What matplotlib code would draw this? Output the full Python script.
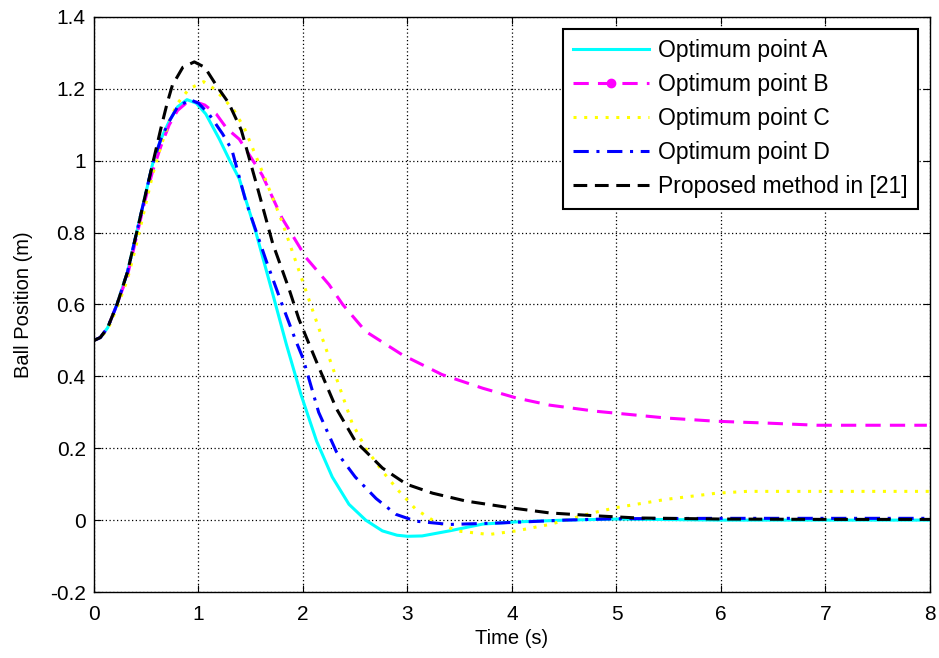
import numpy as np
import matplotlib
matplotlib.use("Agg")
import matplotlib.pyplot as plt
from matplotlib.lines import Line2D

# values (time in s, position in m)
t_a = [0, 0.06, 0.13, 0.22, 0.32, 0.4, 0.48, 0.56, 0.64, 0.72, 0.8, 0.89, 0.98, 1.07, 1.2, 1.3,
       1.39, 1.55, 1.71, 1.84, 1.98, 2.13, 2.28, 2.44, 2.6, 2.76, 2.9, 3.0, 3.14, 3.4, 3.72,
       4.04, 4.5, 5.0, 6.0, 7.0, 8.0]
pos_a = [0.5, 0.508, 0.535, 0.6, 0.69, 0.79, 0.89, 0.99, 1.06, 1.11, 1.15, 1.17, 1.16, 1.13, 1.06, 1.0,
         0.95, 0.8, 0.63, 0.49, 0.35, 0.22, 0.12, 0.044, 0.0, -0.03, -0.042, -0.045, -0.044, -0.03, -0.011,
         -0.005, 0.0, 0.003, 0.0, 0.0, 0.0]

t_b = [0, 0.06, 0.13, 0.22, 0.32, 0.4, 0.48, 0.56, 0.64, 0.72, 0.8, 0.88, 0.96, 1.06, 1.17, 1.27,
       1.39, 1.61, 1.8, 2.03, 2.25, 2.38, 2.6, 2.95, 3.33, 3.72, 4.04, 4.36, 4.8, 5.48, 5.96,
       6.44, 6.92, 7.97]
pos_b = [0.5, 0.508, 0.535, 0.6, 0.68, 0.78, 0.88, 0.97, 1.04, 1.1, 1.14, 1.16, 1.165, 1.155, 1.13, 1.09,
         1.06, 0.96, 0.84, 0.73, 0.655, 0.6, 0.525, 0.46, 0.405, 0.367, 0.34, 0.32, 0.303, 0.284, 0.275,
         0.27, 0.264, 0.264]

t_c = [0, 0.06, 0.13, 0.22, 0.32, 0.4, 0.48, 0.56, 0.64, 0.72, 0.8, 0.91, 1.05, 1.15, 1.25, 1.34,
       1.44, 1.61, 1.8, 1.99, 2.18, 2.35, 2.47, 2.6, 2.76, 2.92, 3.08, 3.24, 3.47, 3.78, 4.04,
       4.36, 4.77, 5.0, 5.48, 5.96, 6.25, 7.0, 8.0]
pos_c = [0.5, 0.507, 0.53, 0.59, 0.67, 0.76, 0.86, 0.96, 1.04, 1.11, 1.16, 1.2, 1.22, 1.2, 1.17, 1.14,
         1.09, 0.97, 0.83, 0.67, 0.51, 0.37, 0.27, 0.2, 0.136, 0.08, 0.03, 0.0, -0.03, -0.04, -0.03,
         -0.012, 0.02, 0.035, 0.058, 0.075, 0.08, 0.08, 0.08]

t_d = [0, 0.06, 0.13, 0.22, 0.32, 0.4, 0.48, 0.56, 0.64, 0.72, 0.8, 0.92, 1.0, 1.1, 1.23, 1.32,
       1.45, 1.65, 1.8, 1.93, 2.0, 2.15, 2.32, 2.5, 2.7, 2.89, 3.08, 3.4, 3.88, 4.5, 5.0,
       6.0, 7.0, 8.0]
pos_d = [0.5, 0.508, 0.535, 0.6, 0.69, 0.79, 0.89, 0.99, 1.06, 1.11, 1.15, 1.17, 1.16, 1.13, 1.075, 1.03,
         0.89, 0.72, 0.6, 0.5, 0.45, 0.3, 0.19, 0.12, 0.06, 0.016, -0.003, -0.012, -0.008, 0.0, 0.004,
         0.005, 0.005, 0.005]

t_ref = [0, 0.06, 0.13, 0.22, 0.32, 0.4, 0.48, 0.56, 0.64, 0.7, 0.75, 0.85, 0.96, 1.06, 1.17, 1.29,
         1.41, 1.55, 1.71, 1.87, 1.96, 2.03, 2.13, 2.32, 2.5, 2.76, 2.99, 3.24, 3.56, 3.97, 4.36,
         4.8, 5.2, 6.0, 7.0, 8.0]
pos_ref = [0.5, 0.508, 0.535, 0.6, 0.69, 0.79, 0.89, 0.99, 1.09, 1.16, 1.21, 1.26, 1.275, 1.26, 1.21, 1.16,
           1.085, 0.94, 0.77, 0.64, 0.56, 0.51, 0.44, 0.31, 0.22, 0.145, 0.1, 0.075, 0.053, 0.035, 0.02,
           0.012, 0.006, 0.003, 0.002, 0.002]

labels = ["Optimum point A", "Optimum point B", "Optimum point C",
          "Optimum point D", "Proposed method in [21]"]

plt.rcParams['font.family'] = ['Liberation Sans', 'DejaVu Sans']

fig = plt.figure(figsize=(9.39, 6.58), dpi=100)
ax = fig.add_axes([0.1001, 0.1003, 0.8903, 0.8739])

lw = 2.2
ls_b = (0, (5, 3))
ls_c = (0, (1, 2.5))
ls_d = (0, (5, 2.5, 1, 2.5))
ls_ref = (0, (4.5, 2.5))
ax.plot(t_a, pos_a, color='cyan', lw=lw, linestyle='-')
ax.plot(t_b, pos_b, color='magenta', lw=lw, linestyle=ls_b)
ax.plot(t_c, pos_c, color='yellow', lw=lw, linestyle=ls_c)
ax.plot(t_d, pos_d, color='blue', lw=lw, linestyle=ls_d)
ax.plot(t_ref, pos_ref, color='black', lw=lw, linestyle=ls_ref)

handles = [
    Line2D([], [], color='cyan', lw=lw, linestyle='-'),
    Line2D([], [], color='magenta', lw=lw, linestyle=ls_b, marker='o', markersize=6),
    Line2D([], [], color='yellow', lw=lw, linestyle=ls_c),
    Line2D([], [], color='blue', lw=lw, linestyle=ls_d),
    Line2D([], [], color='black', lw=lw, linestyle=ls_ref),
]
leg = ax.legend(handles, labels, loc='upper right', fontsize=16.5, handlelength=3.3,
                fancybox=False, edgecolor='black', framealpha=1, borderpad=0.45,
                labelspacing=0.48, handletextpad=0.4, borderaxespad=0,
                bbox_to_anchor=(0.9856, 0.979), numpoints=1)
leg.get_frame().set_linewidth(1.5)

ax.set_xlim(0, 8)
ax.set_ylim(-0.2, 1.4)
ax.set_xticks(np.arange(0, 9, 1))
ax.set_yticks(np.arange(-0.2, 1.41, 0.2))
ax.set_yticklabels(['-0.2', '0', '0.2', '0.4', '0.6', '0.8', '1', '1.2', '1.4'])
ax.grid(True, color='black', linestyle=(0, (1, 2)), linewidth=0.9)
ax.tick_params(direction='in', labelsize=15, top=True, right=True, length=5)
ax.tick_params(axis='x', pad=9)
ax.tick_params(axis='y', pad=6)
for s in ax.spines.values():
    s.set_linewidth(1.0)
ax.set_xlabel("Time (s)", fontsize=14.5, labelpad=4)
ax.set_ylabel("Ball Position (m)", fontsize=14.5, labelpad=12)

fig.savefig("out.png", dpi=100)
